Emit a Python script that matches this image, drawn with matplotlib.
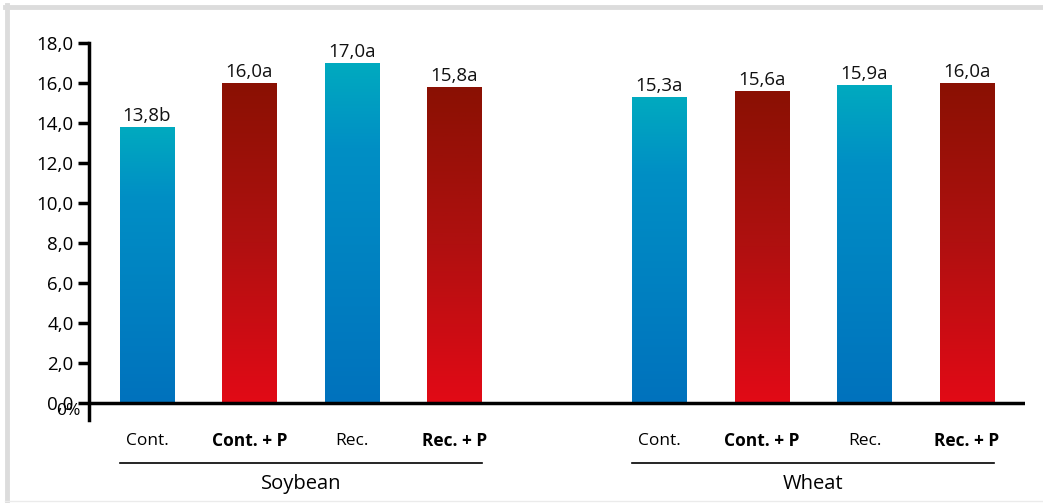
import numpy as np
import matplotlib
matplotlib.use('Agg')
import matplotlib.pyplot as plt
from matplotlib.colors import LinearSegmentedColormap
from matplotlib.lines import Line2D

plt.rcParams['font.family'] = ['Open Sans', 'DejaVu Sans']

# data
groups = ['Soybean', 'Wheat']
treatments = ['Cont.', 'Cont. + P', 'Rec.', 'Rec. + P']
soybean = [13.8, 16.0, 17.0, 15.8]
wheat = [15.3, 15.6, 15.9, 16.0]
soybean_letters = ['b', 'a', 'a', 'a']
wheat_letters = ['a', 'a', 'a', 'a']
yticks = [0, 2, 4, 6, 8, 10, 12, 14, 16, 18]

blue_cmap = LinearSegmentedColormap.from_list(
    'blue', [(0, '#0072bd'), (0.75, '#008fc5'), (1, '#00aabf')])
red_cmap = LinearSegmentedColormap.from_list(
    'red', [(0, '#e20a16'), (0.5, '#b01010'), (1, '#8a1003')])

fig = plt.figure(figsize=(10.43, 5.03), dpi=100)
ax = fig.add_axes([0.0853, 0.165, 0.8974, 0.7495])

# light gray frame: thick left/top, faint bottom
W, H = 1043, 503
fig.lines.append(Line2D([7 / W, 7 / W], [2 / H, 1 - 5 / H], transform=fig.transFigure,
                        color='#dcdcdc', linewidth=3.5))
fig.lines.append(Line2D([5 / W, 1], [1 - 7 / H, 1 - 7 / H], transform=fig.transFigure,
                        color='#dcdcdc', linewidth=3.5))
fig.lines.append(Line2D([5 / W, 1], [2 / H, 2 / H], transform=fig.transFigure,
                        color='#ebebeb', linewidth=1.0))

width = 0.53
positions = [0, 1, 2, 3, 5, 6, 7, 8]
values = soybean + wheat
letters = soybean_letters + wheat_letters
grad = np.linspace(0, 1, 256).reshape(-1, 1)

bars = ax.bar(positions, values, width=width, color='none', edgecolor='none')
for i, (bar, v) in enumerate(zip(bars, values)):
    cmap = blue_cmap if i % 2 == 0 else red_cmap
    x0 = bar.get_x()
    ax.imshow(grad, cmap=cmap, origin='lower', aspect='auto',
              extent=(x0, x0 + width, 0, v), zorder=2)
    ax.text(bar.get_x() + width / 2, v + 0.1,
            f'{v:.1f}'.replace('.', ',') + letters[i],
            ha='center', va='bottom', fontsize=13.5, color='#111111')

ax.set_xlim(-0.566, 8.566)
ax.set_ylim(-0.85, 18)
ax.set_yticks(yticks)
ax.set_yticklabels([f'{t:.1f}'.replace('.', ',') for t in yticks], fontsize=13.5)
ax.tick_params(axis='y', direction='out', length=8, width=2.5, pad=3)
ax.set_xticks([])
for s in ['top', 'right', 'bottom']:
    ax.spines[s].set_visible(False)
ax.spines['left'].set_linewidth(2.5)
ax.spines['left'].set_bounds(-0.85, 18)
ax.axhline(0, color='black', linewidth=2.5, zorder=3)

ax.text(-0.77, -0.4, '0%', ha='center', va='center', fontsize=12.5,
        transform=ax.transData, clip_on=False)

# category labels and group lines
for gi, (g, start) in enumerate(zip(groups, [0, 5])):
    for j, t in enumerate(treatments):
        bold = '+' in t
        ax.text(start + j, -1.9, t, ha='center', va='center', fontsize=12.5,
                fontweight='bold' if bold else 'normal', clip_on=False)
    ax.plot([start - width / 2, start + 3 + width / 2], [-3.0, -3.0],
            color='black', linewidth=1.2, clip_on=False)
    ax.text(start + 1.5, -4.05, g, ha='center', va='center', fontsize=14.5,
            clip_on=False)

fig.savefig('out.png', dpi=100)
